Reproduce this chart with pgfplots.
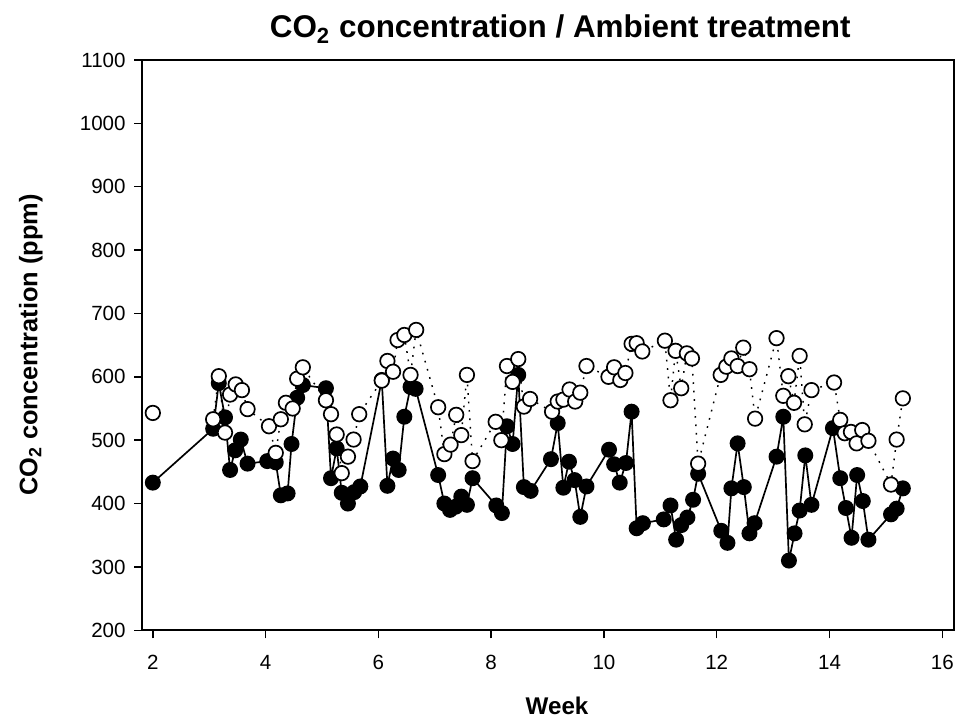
\documentclass[border=0pt]{standalone}
\usepackage{fontspec}
\setmainfont{Liberation Sans}
\usepackage{pgfplots}
\pgfplotsset{compat=1.18}
\begin{document}
\begin{tikzpicture}
\begin{axis}[
  scale only axis,
  width=336pt, height=236pt,
  xmin=1.81, xmax=16.21,
  ymin=200, ymax=1100,
  xtick={2,4,...,16},
  ytick={200,300,...,1100},
  tick align=outside,
  major tick length=3.3pt,
  tick style={black, line width=0.6pt},
  xtick pos=bottom, ytick pos=left,
  axis line style={line width=0.8pt},
  unbounded coords=jump,
  /pgf/number format/assume math mode=true,
  /pgf/number format/set thousands separator={},
  tick label style={font=\fontsize{8.5}{10}\selectfont},
  xticklabel style={anchor=base, yshift=-13pt},
  title={\textbf{CO\textsubscript{2} concentration / Ambient treatment}},
  title style={font=\fontsize{13}{15}\selectfont, at={(axis description cs:0.5,1)}, anchor=base, yshift=3.2pt, xshift=5pt},
  xlabel={\textbf{Week}},
  xlabel style={font=\fontsize{10}{12}\selectfont, at={(axis description cs:0.5,0)}, anchor=base, yshift=-34.8pt, xshift=3.7pt},
  ylabel={\textbf{CO\textsubscript{2} concentration (ppm)}},
  ylabel style={font=\fontsize{10.5}{12}\selectfont, at={(axis description cs:0,0.5)}, anchor=center, yshift=46pt},
  clip=false,
]
\coordinate (sw) at (rel axis cs:0,0);
\coordinate (ne) at (rel axis cs:1,1);
% Filled series
\addplot[black, line width=0.7pt, mark=*, mark size=3pt, mark options={fill=black, draw=black, line width=0.6pt}] coordinates {
(2.00,433) (3.07,518) (3.17,590) (3.28,536) (3.37,453) (3.46,484) (3.56,501) (3.68,463)
(4.03,467) (4.18,465) (4.27,413) (4.39,416) (4.46,494) (4.56,567) (4.66,587)
(5.07,582) (5.16,440) (5.26,487) (5.35,417) (5.46,400) (5.57,418) (5.68,427)
(6.06,595) (6.16,428) (6.26,471) (6.36,453) (6.46,537) (6.57,584) (6.66,581)
(7.06,445) (7.17,400) (7.27,390) (7.37,395) (7.47,411) (7.57,398) (7.67,440)
(8.09,397) (8.19,385) (8.28,522) (8.38,494) (8.48,603) (8.58,426) (8.70,420)
(9.06,470) (9.18,527) (9.28,425) (9.38,466) (9.48,437) (9.58,379) (9.69,427)
(10.09,485) (10.18,462) (10.28,433) (10.39,464) (10.49,545) (10.58,361) (10.69,369)
(11.06,375) (11.18,397) (11.28,343) (11.37,366) (11.48,378) (11.58,406) (11.67,447)
(12.08,357) (12.19,338) (12.26,424) (12.37,495) (12.48,426) (12.58,353) (12.67,369)
(13.06,474) (13.18,537) (13.28,310) (13.38,353) (13.47,389) (13.57,476) (13.68,398)
(14.06,519) (14.19,440) (14.29,393) (14.39,346) (14.49,445) (14.59,404) (14.69,343)
(15.09,383) (15.19,392) (15.30,424)
};
% Open series
\addplot[black, line width=0.6pt, dash pattern=on 0.7pt off 2.8pt, mark=*, mark size=3pt, mark options={solid, fill=white, draw=black, line width=0.7pt}] coordinates {
(2.00,543) (2.5,nan) (3.07,533) (3.17,601) (3.28,512) (3.37,572) (3.47,588) (3.58,579) (3.68,549)
(4.06,522) (4.18,480) (4.27,533) (4.36,559) (4.48,550) (4.56,597) (4.66,615)
(5.07,563) (5.16,541) (5.26,509) (5.35,448) (5.46,474) (5.56,501) (5.66,541)
(6.06,594) (6.16,625) (6.26,608) (6.34,658) (6.46,666) (6.57,603) (6.67,674)
(7.06,552) (7.17,478) (7.28,493) (7.38,540) (7.47,508) (7.57,603) (7.67,467)
(8.08,529) (8.18,500) (8.28,617) (8.38,592) (8.48,628) (8.58,553) (8.69,565)
(9.08,545) (9.18,561) (9.28,564) (9.39,580) (9.49,561) (9.58,575) (9.69,617)
(10.08,600) (10.18,615) (10.29,595) (10.38,606) (10.49,652) (10.58,653) (10.68,640)
(11.08,657) (11.18,563) (11.27,641) (11.37,582) (11.47,637) (11.56,629) (11.67,463)
(12.07,603) (12.17,616) (12.26,629) (12.37,617) (12.47,646) (12.58,612) (12.68,534)
(13.06,661) (13.18,570) (13.27,601) (13.37,559) (13.47,633) (13.56,525) (13.68,579)
(14.08,591) (14.19,532) (14.27,511) (14.38,513) (14.48,495) (14.58,516) (14.69,499)
(15.09,430) (15.19,501) (15.30,566)
};
\end{axis}
\pgfresetboundingbox
\path ([shift={(-58.8pt,-39.3pt)}]sw) rectangle ([shift={(2pt,24.8pt)}]ne);
\end{tikzpicture}
\end{document}
